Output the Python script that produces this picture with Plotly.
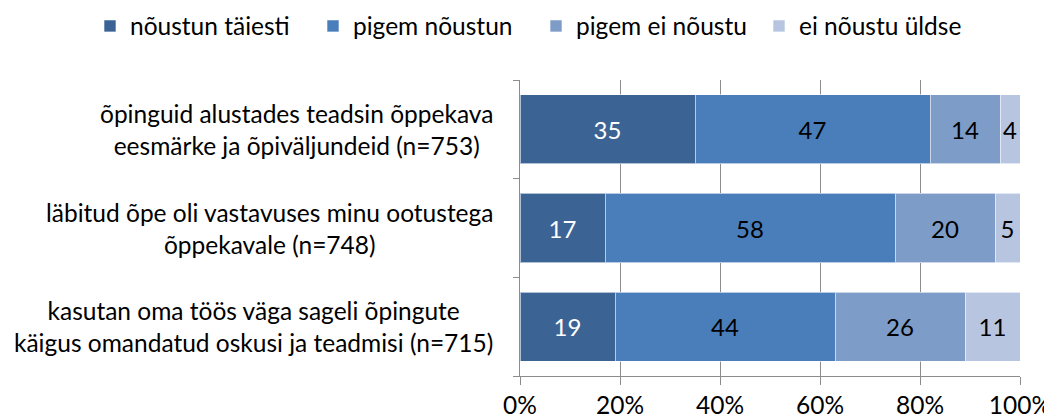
import plotly.graph_objects as go

# Data
questions = [
    "õpinguid alustades teadsin õppekava<br>eesmärke ja õpiväljundeid (n=753)",
    "läbitud õpe oli vastavuses minu ootustega<br>õppekavale (n=748)",
    "kasutan oma töös väga sageli õpingute<br>käigus omandatud oskusi ja teadmisi (n=715)",
]
series_names = ["nõustun täiesti", "pigem nõustun", "pigem ei nõustu", "ei nõustu üldse"]
noustun_taiesti = [35, 17, 19]
pigem_noustun = [47, 58, 44]
pigem_ei_noustu = [14, 20, 26]
ei_noustu_uldse = [4, 5, 11]
x_ticks = [0, 20, 40, 60, 80, 100]
x_tick_labels = ["0%", "20%", "40%", "60%", "80%", "100%"]

series_values = [noustun_taiesti, pigem_noustun, pigem_ei_noustu, ei_noustu_uldse]
colors = ["#3B6495", "#4A7EBB", "#7E9CC8", "#B7C5E1"]
text_colors = ["white", "black", "black", "black"]
FONT = "Lato"
FS = 24.5

cats = list(range(len(questions)))

# page body has an 8px margin, so the figure is sized to fit the window
W, H = 1044, 412
ML, MT, PW, PH = 512, 72, 500, 296

fig = go.Figure()
for name, vals, col, tcol in zip(series_names, series_values, colors, text_colors):
    fig.add_trace(go.Bar(
        y=cats, x=vals, name=name, orientation="h",
        marker=dict(color=col, line=dict(color="rgba(255,255,255,0.6)", width=1)),
        text=vals, texttemplate="%{text}", textposition="inside",
        insidetextanchor="middle", textangle=0, constraintext="none",
        textfont=dict(family=FONT, size=24, color=tcol),
        hoverinfo="skip",
    ))

# category labels, lines centred like the original
for i, q in enumerate(questions):
    fig.add_annotation(x=0, xref="paper", y=i, yref="y", text=q,
                       xanchor="right", yanchor="middle", align="center",
                       xshift=-25, showarrow=False,
                       font=dict(family=FONT, size=FS, color="black"))

fig.update_layout(
    width=W, height=H,
    barmode="stack", bargap=0.3,
    margin=dict(l=ML, r=W - ML - PW, t=MT, b=H - MT - PH, autoexpand=False),
    paper_bgcolor="white", plot_bgcolor="white",
    font=dict(family=FONT, size=FS, color="black"),
    uniformtext=dict(mode="show", minsize=24),
    legend=dict(orientation="h", xref="paper", yref="paper",
                x=(82 - ML) / PW, xanchor="left", y=1 + 54 / PH, yanchor="middle",
                font=dict(family=FONT, size=FS),
                entrywidth=178, entrywidthmode="pixels",
                traceorder="normal", itemclick=False),
    xaxis=dict(range=[0, 100], tickvals=x_ticks, ticktext=x_tick_labels,
               showgrid=True, gridcolor="#8C8C8C", gridwidth=1,
               showline=True, linecolor="#8C8C8C", linewidth=1,
               ticks="outside", ticklen=8, tickcolor="#8C8C8C",
               ticklabeloverflow="allow",
               zeroline=False, fixedrange=True, automargin=False,
               tickfont=dict(family=FONT, size=FS)),
    yaxis=dict(type="category", range=[len(cats) - 0.5, -0.5],
               tickvals=cats, showticklabels=False,
               showline=True, linecolor="#8C8C8C", linewidth=1,
               ticks="outside", ticklen=6, tickcolor="#8C8C8C",
               tickson="boundaries", showgrid=False, fixedrange=True,
               automargin=False),
)

fig.write_html("out.html")
